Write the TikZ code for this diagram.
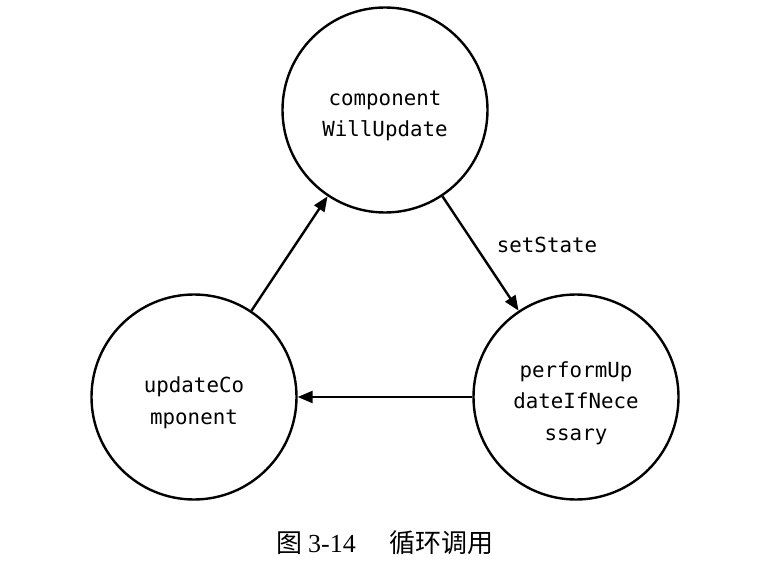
\documentclass[tikz,border=0pt]{standalone}
\usepackage{fontspec}
\setmainfont{Liberation Serif}
\newfontfamily\monofont{DejaVu Sans Mono}
\newfontfamily\cjk{Noto Sans CJK SC}
\usetikzlibrary{arrows.meta}
\begin{document}
\begin{tikzpicture}[x=1pt,y=1pt,
  statenode/.style={circle,draw,line width=2.4pt,minimum size=205pt,inner sep=0pt},
  flow/.style={line width=2.4pt,-{Triangle[length=15pt,width=12pt]}},
  lbl/.style={font=\monofont\fontsize{20.8}{31.5}\selectfont},
  inlbl/.style={lbl,align=center,yshift=-6pt}]
\useasboundingbox (0,0) rectangle (770,582);
\node[statenode,label={[inlbl]center:component\\WillUpdate}] (top) at (385,472) {};
\node[statenode,label={[inlbl]center:updateCo\\mponent}] (left) at (194,185) {};
\node[statenode,label={[inlbl]center:performUp\\dateIfNece\\ssary}] (right) at (576,185) {};
\draw[flow] (top) -- (right);
\draw[flow] (right) -- (left);
\draw[flow] (left) -- (top);
\node[lbl] (st) at (547,337) {setState};
\node (cap) at (385,39) {\fontsize{26}{30}\selectfont\cjk 图 \rmfamily 3-14\hspace{1.3em}\cjk 循环调用};
\end{tikzpicture}
\end{document}
